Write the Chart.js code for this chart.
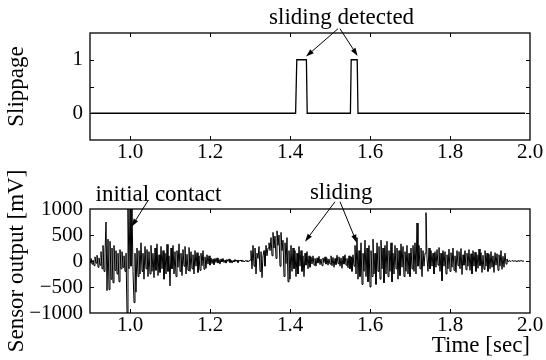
<!DOCTYPE html>
<html>
<head>
<meta charset="utf-8">
<script src="https://cdn.jsdelivr.net/npm/chart.js@4.4.0/dist/chart.umd.min.js"></script>
<style>
  html, body { margin: 0; padding: 0; background: #fff; }
  #wrap { position: relative; width: 546px; height: 360px; }
  canvas { position: absolute; left: 0; top: 0; }
</style>
</head>
<body>
<div id="wrap">
  <canvas id="slipChart" width="546" height="360"></canvas>
  <canvas id="sensorChart" width="546" height="360"></canvas>
</div>
<script>
// slippage detector output (0 / 1)
const slipTimes  = [0.903, 1.414, 1.417, 1.441, 1.443, 1.551, 1.553, 1.568, 1.570, 1.988];
const slipValues = [0,     0,     1,     1,     0,     0,     1,     1,     0,     0];

// sensor output [mV], sampled every 2.5 ms starting at 0.9 s
const sensorStart = 0.9;
const sensorStep = 0.0025;
const sensorValues = [
  -30, 50, -60, 20, -90, 80, -40, 110, -120, 60, -80, 180, -150, 300, -200, 150, 750, -570, 420, -550,
  380, -350, 250, -420, 300, -180, 200, -250, 150, -400, 220, -150, 180, -120, 100, -200, 150, -1000, 1000, -150,
  1000, -100, 1000, -200, -800, 150, -600, 250, -300, 200, -250, 350, -200, 150, -350, 280, -150, 220, -300, 180,
  -250, 300, -200, 150, -320, 250, -180, 330, -280, 120, -220, 280, -150, 200, -350, 150, -250, 320, -200, 100,
  -480, 250, -150, 300, -250, 180, -300, 200, -120, 330, -200, 150, -280, 220, -100, 280, -250, 130, -180, 260,
  -200, 180, -150, 120, -250, 200, -100, 160, -220, 100, -180, 150, -90, 200, -160, 80, -140, 120, -60, 100,
  -80, 60, -50, 40, -70, 50, -30, 60, -40, 30, -60, 40, -20, 50, -30, 20, -40, 30, -10, 40,
  -30, 20, -40, 10, -20, 30, -10, 20, -30, 10, 0, 20, -10, 10, -20, 0, 10, -10, 0, -10,
  20, 200, -150, 300, -100, 250, -250, 150, 50, 280, -200, 180, -320, 100, 200, -100, 300, 100, 250, 350,
  200, 450, 100, 550, 250, 480, 50, 580, 300, 500, -100, 550, 200, 400, -300, 350, -50, 450, -400, 200,
  -350, 300, -200, 250, -150, 200, -300, 150, -250, 280, -100, 200, -200, 100, -300, 150, -80, 180, -150, 100,
  -120, 80, -60, 100, -80, 50, -100, 60, -40, 90, -70, 40, -90, 60, -30, 80, -60, 50, -80, 40,
  -60, 100, -90, 70, -120, 50, -70, 110, -50, 80, -100, 60, -140, 90, -60, 120, -80, 50, -130, 100,
  -150, 80, -200, 120, -100, 300, -250, 450, -350, 200, -300, 350, -450, 150, -200, 400, -300, 250, -400, 300,
  -500, 200, -300, 420, -250, 150, -450, 350, -200, 280, -350, 400, -150, 250, -420, 300, -250, 380, -300, 200,
  -200, 350, -400, 150, -250, 300, -150, 250, -350, 200, -280, 330, -120, 280, -300, 180, -200, 300, -250, 150,
  -300, 250, -150, 300, -200, 350, -250, 730, -100, 300, -150, 250, -300, 200, -100, 150, 930, 50, -200, 250,
  -150, 200, -100, 150, -250, 180, -120, 220, -80, 260, -200, 150, -380, 200, -100, 180, -250, 120, -150, 230,
  -200, 160, -120, 250, -180, 100, -220, 200, -90, 180, -150, 240, -260, 120, -80, 200, -170, 150, -100, 220,
  -180, 140, -250, 200, -100, 170, -200, 120, -140, 230, -90, 160, -220, 110, -160, 200, -100, 150, -200, 130,
  -150, 180, -120, 100, -220, 160, -80, 140, -180, 120, -100, 200, -160, 90, -120, 150, -60, 40, -20, 10,
  0, -10, 10, 0, -5, 5, 0, -10, 5, 0, -5, 10, 0, -5, 0, 0
];

const timeTicks = [1.0, 1.2, 1.4, 1.6, 1.8, 2.0];
const slipTicks = [-0.5, 0, 0.5, 1, 1.5];
const slipTickLabels = ['', '0', '', '1', ''];
const sensorTicks = [-1000, -500, 0, 500, 1000];
const sensorTickLabels = ['\u22121000', '\u2212500', '0', '500', '1000'];

const serif = "'Liberation Serif', 'Times New Roman', serif";
Chart.defaults.color = '#000';
Chart.defaults.font.family = serif;

// frame around the plot + inward tick marks on all four sides
const frameTicks = {
  id: 'frameTicks',
  afterDraw(chart) {
    const {ctx, chartArea: a, scales: {x, y}} = chart;
    ctx.save();
    ctx.strokeStyle = '#000';
    ctx.lineWidth = 1.3;
    ctx.strokeRect(a.left, a.top, a.right - a.left, a.bottom - a.top);
    ctx.lineWidth = 1;
    const len = 4;
    ctx.beginPath();
    x.ticks.forEach(t => {
      const px = Math.round(x.getPixelForValue(t.value)) + 0.5;
      if (px <= a.left + 1 || px >= a.right - 1) return;
      ctx.moveTo(px, a.top); ctx.lineTo(px, a.top + len);
      ctx.moveTo(px, a.bottom); ctx.lineTo(px, a.bottom - len);
    });
    y.ticks.forEach(t => {
      const py = Math.round(y.getPixelForValue(t.value)) + 0.5;
      if (py <= a.top + 1 || py >= a.bottom - 1) return;
      ctx.moveTo(a.left, py); ctx.lineTo(a.left + len, py);
      ctx.moveTo(a.right, py); ctx.lineTo(a.right - len, py);
    });
    ctx.stroke();
    ctx.restore();
  }
};

function drawArrow(ctx, x1, y1, x2, y2) {
  const ang = Math.atan2(y2 - y1, x2 - x1);
  const hl = 8, hw = 2.6;
  ctx.beginPath();
  ctx.moveTo(x1, y1);
  ctx.lineTo(x2 - Math.cos(ang) * hl * 0.8, y2 - Math.sin(ang) * hl * 0.8);
  ctx.stroke();
  ctx.beginPath();
  ctx.moveTo(x2, y2);
  ctx.lineTo(x2 - Math.cos(ang) * hl - Math.sin(ang) * hw, y2 - Math.sin(ang) * hl + Math.cos(ang) * hw);
  ctx.lineTo(x2 - Math.cos(ang) * hl + Math.sin(ang) * hw, y2 - Math.sin(ang) * hl - Math.cos(ang) * hw);
  ctx.closePath();
  ctx.fill();
}

// text labels with arrows, placed in data coordinates
const notes = {
  id: 'notes',
  afterDraw(chart, args, opts) {
    const {ctx, scales: {x, y}} = chart;
    ctx.save();
    ctx.fillStyle = '#000';
    ctx.strokeStyle = '#000';
    ctx.lineWidth = 1;
    ctx.font = '23px ' + serif;
    ctx.textAlign = 'center';
    ctx.textBaseline = 'middle';
    (opts.items || []).forEach(n => {
      ctx.fillText(n.text, x.getPixelForValue(n.at[0]), y.getPixelForValue(n.at[1]));
      n.arrows.forEach(ar => {
        drawArrow(ctx,
          x.getPixelForValue(ar[0]), y.getPixelForValue(ar[1]),
          x.getPixelForValue(ar[2]), y.getPixelForValue(ar[3]));
      });
    });
    ctx.restore();
  }
};

function timeAxis(height, withTitle) {
  return {
    type: 'linear', min: 0.9, max: 2.0,
    afterBuildTicks: s => { s.ticks = timeTicks.map(v => ({value: v})); },
    afterFit: s => { s.height = height; },
    grid: {display: false, drawTicks: false},
    border: {display: false},
    ticks: {font: {size: 21}, padding: 0, maxRotation: 0, autoSkip: false,
            callback: v => Number(v).toFixed(1)},
    title: {display: withTitle, text: 'Time [sec]', align: 'end',
            font: {size: 23}, padding: {top: 0, bottom: 0}}
  };
}

function valueAxis(min, max, ticks, labels, title) {
  return {
    min: min, max: max,
    afterBuildTicks: s => { s.ticks = ticks.map(v => ({value: v})); },
    afterFit: s => { s.width = 90; },
    grid: {display: false, drawTicks: false},
    border: {display: false},
    ticks: {font: {size: 21}, padding: 7, autoSkip: false, callback: (v, i) => labels[i]},
    title: {display: true, text: title, font: {size: 23}, padding: {top: 3, bottom: 0}}
  };
}

// upper panel: chart area 33..140
new Chart(document.getElementById('slipChart'), {
  type: 'line',
  data: {datasets: [{
    data: slipTimes.map((t, i) => ({x: t, y: slipValues[i]})),
    borderColor: '#000', borderWidth: 1.3, pointRadius: 0, tension: 0
  }]},
  options: {
    responsive: false, animation: false,
    layout: {padding: {top: 33, right: 16, left: 0, bottom: 180}},
    plugins: {
      legend: {display: false}, tooltip: {enabled: false},
      notes: {items: [
        {text: 'sliding detected', at: [1.529, 1.79],
         arrows: [[1.52, 1.58, 1.44, 1.06], [1.525, 1.58, 1.569, 1.07]]}
      ]}
    },
    scales: {
      x: timeAxis(40, false),
      y: valueAxis(-0.5, 1.5, slipTicks, slipTickLabels, 'Slippage')
    }
  },
  plugins: [frameTicks, notes]
});

// lower panel: chart area 209..313
new Chart(document.getElementById('sensorChart'), {
  type: 'line',
  data: {datasets: [{
    data: sensorValues.map((v, i) => ({x: +(sensorStart + i * sensorStep).toFixed(4), y: v})),
    borderColor: '#000', borderWidth: 1, pointRadius: 0, tension: 0
  }]},
  options: {
    responsive: false, animation: false,
    layout: {padding: {top: 209, right: 16, left: 0, bottom: 0}},
    plugins: {
      legend: {display: false}, tooltip: {enabled: false},
      notes: {items: [
        {text: 'initial contact', at: [1.071, 1269],
         arrows: [[1.046, 1173, 1.004, 660]]},
        {text: 'sliding', at: [1.528, 1314],
         arrows: [[1.5125, 1140, 1.4375, 371], [1.525, 1140, 1.567, 352]]}
      ]}
    },
    scales: {
      x: timeAxis(47, true),
      y: valueAxis(-1000, 1000, sensorTicks, sensorTickLabels, 'Sensor output [mV]')
    }
  },
  plugins: [frameTicks, notes]
});
</script>
</body>
</html>
